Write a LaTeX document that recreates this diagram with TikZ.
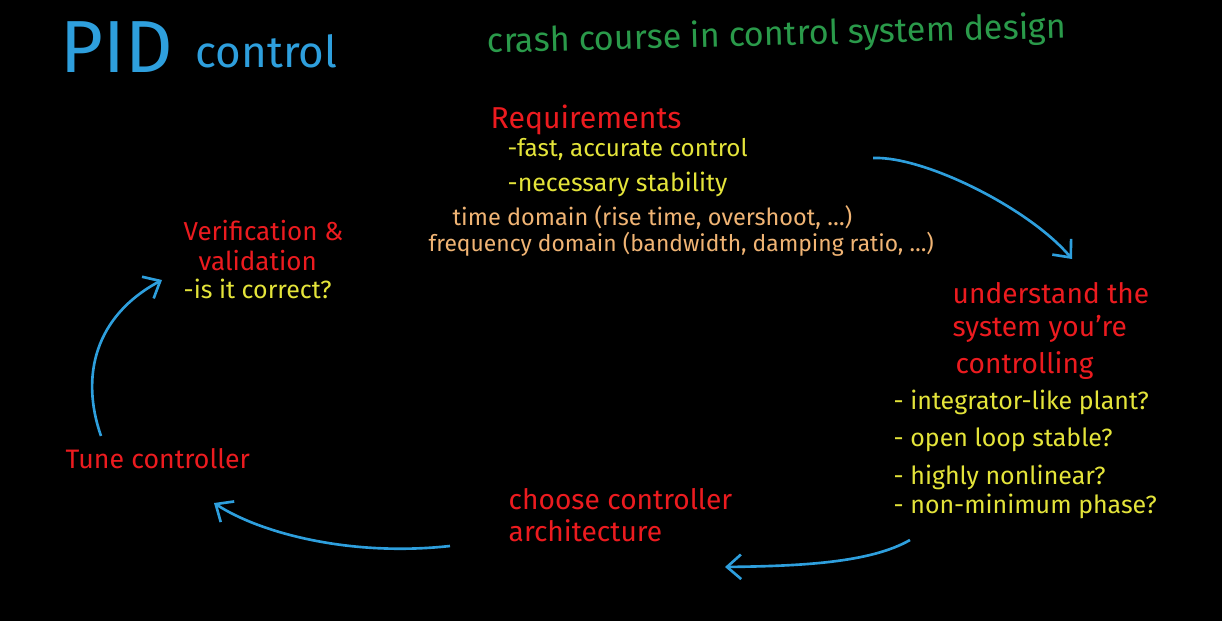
\documentclass[tikz,border=0pt]{standalone}
\usepackage{fontspec}
\setmainfont{Fira Sans}
\usetikzlibrary{arrows.meta}
\definecolor{cBoard}{HTML}{000000}
\definecolor{cChalkBlue}{HTML}{2E9FDD}
\definecolor{cChalkGreen}{HTML}{2A9A4A}
\definecolor{cChalkRed}{HTML}{EC1B1F}
\definecolor{cChalkYellow}{HTML}{E4E43A}
\definecolor{cChalkPeach}{HTML}{F0B474}

\begin{document}
\begin{tikzpicture}[
    x=1cm, y=1cm,
    titlebox/.style={text=cChalkBlue, inner sep=0pt, anchor=base west},
    head/.style={text=cChalkRed, inner sep=0pt, anchor=base west,
                 font=\fontsize{8.0}{10}\selectfont},
    item/.style={text=cChalkYellow, inner sep=0pt, anchor=base west,
                 font=\fontsize{7.1}{9}\selectfont},
    spec/.style={text=cChalkPeach, inner sep=0pt, anchor=base west,
                 font=\fontsize{6.7}{9}\selectfont},
    flow/.style={-{Straight Barb[length=4pt, width=7pt]}, line width=0.75pt,
                 cChalkBlue},
]

% ===================== Pizarra =====================
\fill[cBoard] (0,0) rectangle (12.22,6.21);
\useasboundingbox (0,0) rectangle (12.22,6.21);

% ===================== Titulos =====================
\node[titlebox, font=\fontsize{21}{24}\selectfont] (pid) at (0.60,5.48) {PID};
\node[titlebox, font=\fontsize{12.5}{14}\selectfont] (pidctl) at (1.95,5.53) {control};
\node[text=cChalkGreen, inner sep=0pt, anchor=base west, rotate=1.5,
      font=\fontsize{9.7}{12}\selectfont] (crash) at (4.87,5.68)
      {crash course in control system design};

% ===================== Requisitos =====================
\node[head, font=\fontsize{8.6}{11}\selectfont] (req) at (4.90,4.92) {Requirements};
\node[item, font=\fontsize{6.9}{9}\selectfont] (reqA) at (5.07,4.64) {-fast, accurate control};
\node[item] (reqB) at (5.07,4.29) {-necessary stability};
\node[spec] (reqTime) at (4.52,3.95) {time domain (rise time, overshoot, \dots)};
\node[spec, font=\fontsize{6.5}{9}\selectfont] (reqFreq) at (4.28,3.69)
      {frequency domain (bandwidth, damping ratio, \dots)};

% ===================== Sistema =====================
\node[head] (sysA) at (9.52,3.17) {understand the};
\node[head] (sysB) at (9.52,2.84) {system you're};
\node[head] (sysC) at (9.55,2.47) {controlling};

\foreach \i/\y/\t in {1/2.11/{- integrator-like plant?},
                      2/1.74/{- open loop stable?},
                      3/1.36/{- highly nonlinear?},
                      4/1.07/{- non-minimum phase?}} {
    \node[item] (sysQ\i) at (8.93,\y) {\t};
}

% ===================== Arquitectura =====================
\node[head] (archA) at (5.08,1.11) {choose controller};
\node[head] (archB) at (5.08,0.79) {architecture};

% ===================== Ajuste =====================
\node[head, font=\fontsize{7.6}{10}\selectfont] (tune) at (0.65,1.52) {Tune controller};

% ===================== Verificacion =====================
\node[head, font=\fontsize{7.4}{10}\selectfont] (verA) at (1.83,3.80) {Verification \&};
\node[head, font=\fontsize{7.4}{10}\selectfont] (verB) at (1.98,3.50) {validation};
\node[item] (verQ) at (1.83,3.22) {-is it correct?};

% ===================== Flechas del ciclo =====================
\coordinate (reqOut)  at (8.73,4.63);
\coordinate (sysIn)   at (10.72,3.62);
\coordinate (sysOut)  at (9.10,0.81);
\coordinate (archIn)  at (7.25,0.54);
\coordinate (archOut) at (4.50,0.75);
\coordinate (tuneIn)  at (2.14,1.18);
\coordinate (tuneOut) at (1.01,1.85);
\coordinate (verIn)   at (1.62,3.41);

\draw[flow] (reqOut) .. controls (9.25,4.65) and (10.30,4.12) .. (sysIn);
\draw[flow] (sysOut) .. controls (8.70,0.58) and (8.00,0.55) .. (archIn);
\draw[flow] (archOut) .. controls (3.50,0.64) and (2.60,0.88) .. (tuneIn);
\draw[flow] (tuneOut) .. controls (0.80,2.45) and (0.95,3.05) .. (verIn);

\end{tikzpicture}
\end{document}
